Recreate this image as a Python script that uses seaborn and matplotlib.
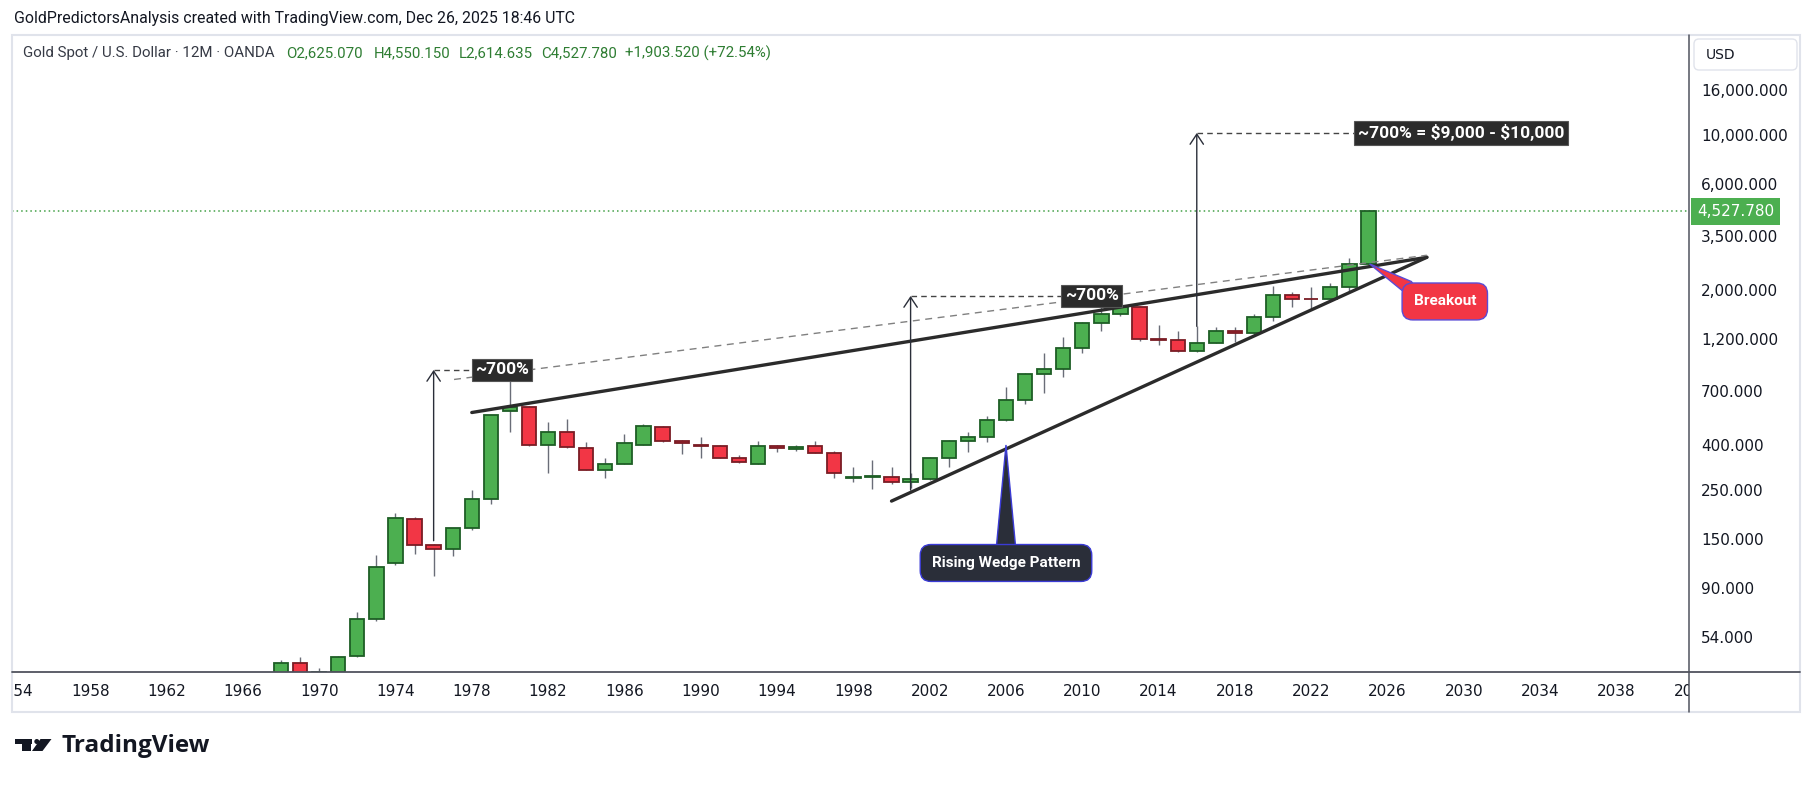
import numpy as np
import pandas as pd
import matplotlib
matplotlib.use('Agg')
import matplotlib.pyplot as plt
import matplotlib.transforms as mtransforms
from matplotlib.patches import Rectangle, FancyBboxPatch, Circle, Polygon
from matplotlib.lines import Line2D
from matplotlib.ticker import NullLocator, NullFormatter
import seaborn as sns

# yearly candles, XAU/USD
years = list(range(1968, 2026))
opens = [35.2, 41.3, 35.2, 37.4, 44.1, 65.0, 116.0, 185.0, 141.0, 135.5,
         167.0, 228.0, 565.0, 589.0, 396.0, 454.0, 385.0, 306.0, 328.0, 400.0,
         482.0, 413.0, 398.0, 392.0, 349.0, 328.0, 392.0, 383.0, 392.0, 368.0,
         281.0, 286.0, 286.0, 272.0, 278.0, 346.0, 413.0, 434.0, 514.0, 633.0,
         830.0, 875.0, 1088.0, 1413.0, 1548.0, 1667.0, 1200.0, 1190.0, 1055.0, 1146.0,
         1298.0, 1280.0, 1504.0, 1887.0, 1818.0, 1812.0, 2055.0, 2625.07]
highs = [42.5, 43.8, 39.0, 44.5, 70.0, 127.0, 196.0, 189.0, 142.0, 168.0,
         248.0, 545.0, 850.0, 595.0, 508.0, 520.0, 410.0, 349.0, 444.0, 497.0,
         487.0, 418.0, 431.0, 398.0, 359.0, 413.0, 397.0, 396.0, 417.0, 372.0,
         315.0, 339.0, 318.0, 296.0, 351.0, 418.0, 454.0, 540.0, 724.0, 842.0,
         1033.0, 1219.0, 1430.0, 1920.0, 1795.0, 1696.0, 1383.0, 1305.0, 1375.0, 1358.0,
         1365.0, 1557.0, 2075.0, 1959.0, 2070.0, 2140.0, 2790.0, 4550.15]
lows = [35.0, 35.0, 34.8, 37.3, 43.7, 64.0, 114.0, 128.0, 102.0, 126.0,
        165.0, 216.0, 454.0, 395.0, 296.0, 385.0, 306.0, 281.0, 326.0, 398.0,
        410.0, 361.0, 349.0, 347.0, 330.0, 326.0, 370.0, 372.0, 366.0, 281.0,
        272.0, 253.0, 264.0, 255.0, 276.0, 318.0, 369.0, 410.0, 512.0, 608.0,
        687.0, 804.0, 1035.0, 1308.0, 1527.0, 1180.0, 1124.0, 1046.0, 1046.0, 1146.0,
        1160.0, 1266.0, 1451.0, 1677.0, 1615.0, 1804.0, 1984.0, 2614.635]
closes = [41.3, 35.2, 37.4, 43.8, 65.0, 112.0, 187.0, 141.0, 135.5, 167.0,
          228.0, 541.0, 594.0, 400.0, 454.0, 388.0, 308.0, 328.0, 405.0, 487.0,
          413.0, 405.0, 394.0, 349.0, 332.0, 392.0, 385.0, 388.0, 368.0, 296.0,
          286.0, 287.0, 272.0, 278.0, 346.0, 413.0, 434.0, 514.0, 633.0, 830.0,
          875.0, 1088.0, 1413.0, 1548.0, 1667.0, 1194.0, 1190.0, 1055.0, 1146.0, 1298.0,
          1280.0, 1504.0, 1887.0, 1812.0, 1810.0, 2055.0, 2612.0, 4527.78]

price_ticks = [54, 90, 150, 250, 400, 700, 1200, 2000, 3500, 6000, 10000, 16000]
year_ticks = list(range(1954, 2043, 4))

# drawings on the chart (year, price)
upper_x, upper_y = [1978.0, 2028.06], [558, 2806]
lower_x, lower_y = [2000.0, 2028.06], [222, 2806]
channel_x, channel_y = [1977.07, 2028.06], [787, 2866]
arrow_x = [1976, 2001, 2016]
arrow_lo = [147, 249, 1368]
arrow_hi = [869, 1876, 10228]
label_x = [1979.58, 2010.5, 2029.85]
label_txt = ['~700%', '~700%', '~700% = \\$9,000 - \\$10,000']
wedge_note = (2006.0, 116.6, 'Rising Wedge Pattern')
wedge_tip = (2006.0, 398)
break_note = (2029.0, 1772, 'Breakout')
break_tip = (2025.06, 2618)

sns.set_theme(style='white')
plt.rcParams['font.family'] = ['DejaVu Sans']

df = pd.DataFrame({'year': years, 'open': opens, 'high': highs, 'low': lows, 'close': closes})
df['up'] = df['close'] >= df['open']

W, H = 1814, 787
fig = plt.figure(figsize=(W / 100, H / 100), dpi=100)
fig.patch.set_facecolor('white')
inch = fig.dpi_scale_trans

def px(x, y):
    return (x / 100, (H - y) / 100)

ax = fig.add_axes([12 / W, 1 - 672 / H, 1677 / W, 637 / H])
ax.set_facecolor('white')
ax.set_yscale('log')
ax.set_xlim(1953.9, 2041.8)
ax.set_ylim(37.5, 28350)
for s in ax.spines.values():
    s.set_visible(False)
ax.grid(False)

# candles
ax.vlines(df['year'], df['low'], df['high'], color='#6a6d78', lw=1, zorder=2)
body_lo = df[['open', 'close']].min(axis=1)
body_hi = df[['open', 'close']].max(axis=1)
fill = np.where(df['up'], '#4caf50', '#f23645')
edge = np.where(df['up'], '#1e5e25', '#7a1c24')
ax.bar(df['year'], body_hi - body_lo, bottom=body_lo, width=0.75,
       color=fill, edgecolor=edge, linewidth=1.3, zorder=3)

# last price line
ax.axhline(closes[-1], color='#43a047', lw=1.1, ls=(0, (1, 2)), zorder=1)

# wedge
sns.lineplot(x=upper_x, y=upper_y, ax=ax, color='#2b2b2b', lw=2.4, zorder=4)
sns.lineplot(x=lower_x, y=lower_y, ax=ax, color='#2b2b2b', lw=2.4, zorder=4)
ax.plot(channel_x, channel_y, color='#808080', lw=1, ls=(0, (5, 4)), zorder=4)

# measured moves
for x, lo, hi, lx, t in zip(arrow_x, arrow_lo, arrow_hi, label_x, label_txt):
    ax.annotate('', xy=(x, hi), xytext=(x, lo),
                arrowprops=dict(arrowstyle='->,head_length=0.6,head_width=0.4',
                                color='#2a2e39', lw=1, shrinkA=0, shrinkB=0), zorder=5)
    ax.plot([x, lx], [hi, hi], color='#444444', lw=1, ls=(0, (4, 3)), zorder=4)
    ax.text(lx, hi, t, ha='center', va='center', fontsize=12.5, fontweight='bold',
            family='Roboto', color='white', zorder=7,
            bbox=dict(boxstyle='square,pad=0.2', fc='#2b2b2b', ec='#555555', lw=0.8))

# callouts
wx, wy, wt = wedge_note
ax.fill([wx - 0.52, wedge_tip[0], wx + 0.52], [133.5, wedge_tip[1], 133.5],
        fc='#2a2e39', ec='#3b3bd6', lw=1, zorder=6)
ax.text(wx, wy, wt, ha='center', va='center', fontsize=11, fontweight='bold',
        family='Roboto', color='white', zorder=7,
        bbox=dict(boxstyle='round,pad=0.75,rounding_size=0.7', fc='#2a2e39', ec='#3b3bd6', lw=1))
bx, by, bt = break_note
ax.fill([break_tip[0], 2026.75, 2027.8, 2027.25], [break_tip[1], 1990, 1850, 2180],
        fc='#f23645', ec='#5b4bd6', lw=1, zorder=6)
ax.text(bx, by, bt, ha='center', va='center', fontsize=11, fontweight='bold',
        family='Roboto', color='white', zorder=7,
        bbox=dict(boxstyle='round,pad=0.75,rounding_size=0.7', fc='#f23645', ec='#5b4bd6', lw=1))

# price scale
ax.set_xticks([])
ax.set_yticks(price_ticks)
ax.set_yticklabels([f'{t:,.3f}' for t in price_ticks])
ax.yaxis.set_minor_locator(NullLocator())
ax.yaxis.set_minor_formatter(NullFormatter())
ax.yaxis.tick_right()
ax.tick_params(axis='y', length=0, pad=8.6, labelsize=11, labelcolor='#131722')

tag_tr = mtransforms.blended_transform_factory(ax.transAxes, ax.transData)
ax.text(1 + 8 / 1677, closes[-1], f'{closes[-1]:,.3f}', transform=tag_tr, ha='left', va='center',
        fontsize=11, color='white', zorder=8, clip_on=False,
        bbox=dict(boxstyle='square,pad=0.4', fc='#4caf50', ec='none'))

# time scale
tax = fig.add_axes([12 / W, 1 - 712 / H, 1677 / W, 40 / H])
tax.set_xlim(ax.get_xlim())
tax.axis('off')
ttr = mtransforms.blended_transform_factory(tax.transData, tax.transAxes)
for yr in year_ticks:
    tax.text(yr, 0.5, str(yr), transform=ttr, ha='center', va='center',
             fontsize=11, color='#131722', clip_on=True)

# panel frame and scale borders
fig.add_artist(Rectangle(px(12, 712), 17.88, 6.77, fill=False, ec='#e0e3eb', lw=1.5, transform=inch))
fig.add_artist(Line2D([0.12, 18.0], [px(0, 672)[1]] * 2, color='#50535e', lw=1.3, transform=inch))
fig.add_artist(Line2D([16.89, 16.89], [px(0, 35)[1], px(0, 712)[1]], color='#50535e', lw=1.1, transform=inch))
fig.add_artist(FancyBboxPatch(px(1694, 70), 1.03, 0.31, boxstyle='round,pad=0,rounding_size=0.05',
                              fc='white', ec='#e0e3eb', lw=1, transform=inch))
fig.text(*px(1706, 55), 'USD', transform=inch, va='center', fontsize=10, color='#131722')

# header and legend
fig.text(*px(14, 18.5), 'GoldPredictorsAnalysis created with TradingView.com, Dec 26, 2025 18:46 UTC',
         transform=inch, va='center', fontsize=11.4, family='Roboto', color='#131722')
legend_parts = [(23, 'Gold Spot / U.S. Dollar · 12M · OANDA', '#363a45'),
                (286, 'O2,625.070', '#2e7d32'), (374, 'H4,550.150', '#2e7d32'),
                (459, 'L2,614.635', '#2e7d32'), (541, 'C4,527.780', '#2e7d32'),
                (625, '+1,903.520 (+72.54%)', '#2e7d32')]
for lx, t, c in legend_parts:
    fig.text(*px(lx, 53), t, transform=inch, va='center', fontsize=10.8, family='Roboto', color=c)

# TradingView logo
fig.add_artist(Rectangle(px(15, 743.5), 0.167, 0.045, fc='#131722', ec='none', transform=inch))
fig.add_artist(Rectangle(px(21.7, 751), 0.09, 0.12, fc='#131722', ec='none', transform=inch))
fig.add_artist(Circle(px(36.8, 741.5), 0.025, fc='#131722', ec='none', transform=inch))
fig.add_artist(Polygon([px(40.5, 739), px(51.5, 739), px(42.5, 751), px(32, 751)],
                       fc='#131722', ec='none', transform=inch))
fig.text(*px(61, 746), 'TradingView', transform=inch, va='center', fontsize=17.5,
         fontweight='bold', family='Open Sans', color='#131722')

fig.savefig('out.png', dpi=100, facecolor='white')
